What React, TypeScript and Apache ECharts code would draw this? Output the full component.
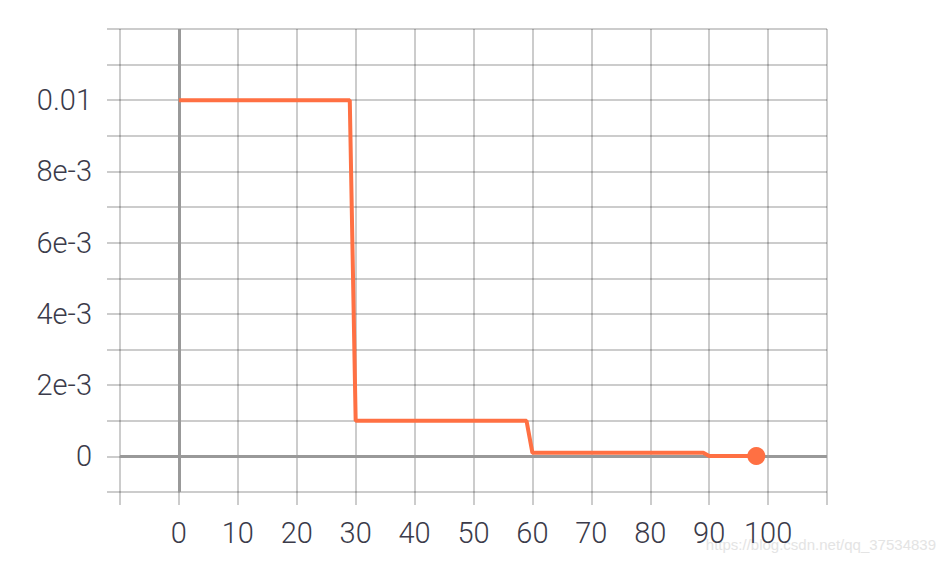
import React, { useEffect, useRef } from "react";
import * as echarts from "echarts";

const steps = [0, 29, 30, 59, 60, 89, 90, 98];
const learningRate = [0.01, 0.01, 0.001, 0.001, 0.0001, 0.0001, 0.00001, 0.00001];
const xTickLabels = [0, 10, 20, 30, 40, 50, 60, 70, 80, 90, 100];
const yTickLabels: Record<string, string> = {
  "0": "0",
  "2": "2e-3",
  "4": "4e-3",
  "6": "6e-3",
  "8": "8e-3",
  "10": "0.01",
};
const watermark = "https://blog.csdn.net/qq_37534839";

const LINE = "#ff7043";
const GRID = "rgba(0,0,0,0.2)";
const TEXT = "#3b3b4a";
const FONT = "Roboto";

export default function App() {
  const ref = useRef<HTMLDivElement>(null);
  useEffect(() => {
    if (!ref.current) return;
    const chart = echarts.init(ref.current, undefined, { renderer: "svg" });
    const data = steps.map((s, i) => [s, learningRate[i]]);
    const last = data[data.length - 1];
    chart.setOption({
      animation: false,
      grid: { left: 120, right: 117, top: 29, bottom: 72 },
      xAxis: {
        type: "value",
        min: -10,
        max: 110,
        interval: 10,
        axisLine: { show: true, onZero: false, lineStyle: { color: GRID, width: 2, opacity: 0 } },
        axisTick: { show: true, inside: false, length: 13, lineStyle: { color: GRID, width: 2, opacity: 1 } },
        splitLine: { show: true, lineStyle: { color: GRID, width: 2 } },
        axisLabel: {
          margin: 26,
          fontFamily: FONT,
          fontWeight: 300,
          fontSize: 29,
          color: TEXT,
          formatter: (v: number) =>
            xTickLabels.includes(Math.round(v)) ? String(Math.round(v)) : "",
        },
      },
      yAxis: {
        type: "value",
        min: -0.001,
        max: 0.012,
        interval: 0.001,
        axisLine: { show: true, onZero: false, lineStyle: { color: GRID, width: 2, opacity: 0 } },
        axisTick: { show: true, inside: false, length: 13, lineStyle: { color: GRID, width: 2, opacity: 1 } },
        splitLine: { show: true, lineStyle: { color: GRID, width: 2 } },
        axisLabel: {
          margin: 28,
          fontFamily: FONT,
          fontWeight: 300,
          fontSize: 29,
          color: TEXT,
          formatter: (v: number) => {
            const k = String(Math.round(v * 1000));
            return yTickLabels[k] ?? "";
          },
        },
      },
      graphic: [
        {
          type: "text",
          right: 8,
          top: 537,
          z: -1,
          style: {
            text: watermark,
            fontFamily: "Liberation Sans",
            fontSize: 15,
            fill: "#e4e4e4",
          },
          silent: true,
        },
      ],
      series: [
        {
          type: "line",
          data,
          showSymbol: false,
          symbol: "none",
          lineStyle: { color: LINE, width: 4 },
          z: 3,
          markLine: {
            silent: true,
            symbol: "none",
            label: { show: false },
            lineStyle: { color: "#999", width: 3, type: "solid" },
            data: [{ xAxis: 0 }, { yAxis: 0 }],
            z: 1,
          },
        },
        {
          type: "scatter",
          data: [last],
          symbol: "circle",
          symbolSize: 18,
          itemStyle: { color: LINE, opacity: 1 },
          z: 4,
        },
      ],
    });
    return () => chart.dispose();
  }, []);
  return (
    <div
      ref={ref}
      style={{ position: "fixed", left: 0, top: 0, width: 944, height: 564, background: "#fff" }}
    />
  );
}
